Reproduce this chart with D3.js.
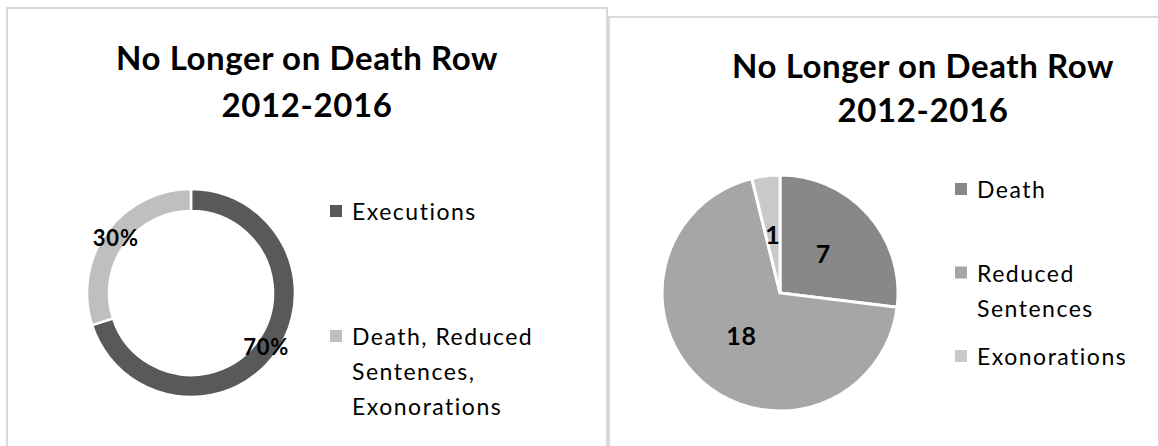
<!DOCTYPE html>
<html>
<head>
<meta charset="utf-8">
<script src="https://cdn.jsdelivr.net/npm/d3@7"></script>
<style>
  body { margin: 0; background: #fff; }
  svg { display: block; font-family: Lato, "Open Sans", sans-serif; }
  .title { font-size: 33px; font-weight: bold; fill: #000; text-anchor: middle; letter-spacing: 0.6px; }
  .legend-text { font-size: 23px; fill: #000; letter-spacing: 1.5px; }
  .slice-label { font-size: 22px; font-weight: bold; fill: #000; text-anchor: middle; letter-spacing: 0.8px; }
  .pie-label { font-size: 25px; }
  .panel { fill: none; stroke: #d9d9d9; stroke-width: 2; }
</style>
</head>
<body>
<div id="chart"></div>
<script>
// chart data
const titleLines = ['No Longer on Death Row', '2012-2016'];

const donutCategories = ['Executions', 'Death, Reduced Sentences, Exonorations'];
const donutValues = [70, 30];
const donutLegend = [['Executions'], ['Death, Reduced', 'Sentences,', 'Exonorations']];
const donutColors = ['#595959', '#bfbfbf'];

const pieCategories = ['Death', 'Reduced Sentences', 'Exonorations'];
const pieValues = [7, 18, 1];
const pieLegend = [['Death'], ['Reduced', 'Sentences'], ['Exonorations']];
const pieColors = ['#888888', '#a6a6a6', '#c9c9c9'];

const svg = d3.select('#chart')
  .append('svg')
  .attr('width', 1158)
  .attr('height', 446);

// panel frames
svg.append('rect').attr('class', 'panel')
  .attr('x', 7).attr('y', 8).attr('width', 600).attr('height', 460);
svg.append('rect').attr('class', 'panel')
  .attr('x', 609).attr('y', 17).attr('width', 620).attr('height', 460);

function addTitle(cx, baselines) {
  svg.append('g').selectAll('text')
    .data(titleLines)
    .join('text')
    .attr('class', 'title')
    .attr('x', cx)
    .attr('y', (d, i) => baselines[i])
    .text(d => d);
}

function addLegend(categories, lines, colors, x, yRange) {
  const y = d3.scalePoint().domain(categories).range(yRange);
  const items = svg.append('g').selectAll('g')
    .data(categories)
    .join('g')
    .attr('transform', d => `translate(${x},${y(d)})`);

  items.append('rect')
    .attr('width', 12)
    .attr('height', 12)
    .attr('fill', (d, i) => colors[i]);

  items.append('text')
    .attr('class', 'legend-text')
    .attr('x', 22)
    .attr('y', 15)
    .selectAll('tspan')
    .data((d, i) => lines[i])
    .join('tspan')
    .attr('x', 22)
    .attr('dy', (d, i) => i === 0 ? 0 : 35)
    .text(d => d);
}

// ---- left: doughnut of percentages ----
addTitle(307, [70, 117]);

const donutPie = d3.pie().sort(null).value(d => d);
const donutArc = d3.arc().innerRadius(82).outerRadius(104);
const donutG = svg.append('g').attr('transform', 'translate(191,293)');
const donutTotal = d3.sum(donutValues);

donutG.selectAll('path')
  .data(donutPie(donutValues))
  .join('path')
  .attr('d', donutArc)
  .attr('fill', (d, i) => donutColors[i])
  .attr('stroke', '#fff')
  .attr('stroke-width', 2.5);

donutG.selectAll('text')
  .data(donutPie(donutValues))
  .join('text')
  .attr('class', 'slice-label')
  .attr('x', d => donutArc.centroid(d)[0])
  .attr('y', d => donutArc.centroid(d)[1])
  .attr('dy', '0.35em')
  .text(d => d3.format('.0%')(d.value / donutTotal));

addLegend(donutCategories, donutLegend, donutColors, 330, [205, 330]);

// ---- right: pie of counts ----
addTitle(923, [78, 122]);

const countPie = d3.pie().sort(null).value(d => d);
const pieArc = d3.arc().innerRadius(0).outerRadius(118);
const labelArc = d3.arc().innerRadius(58).outerRadius(58);
const pieG = svg.append('g').attr('transform', 'translate(780,293)');

pieG.selectAll('path')
  .data(countPie(pieValues))
  .join('path')
  .attr('d', pieArc)
  .attr('fill', (d, i) => pieColors[i])
  .attr('stroke', '#fff')
  .attr('stroke-width', 3);

pieG.selectAll('text')
  .data(countPie(pieValues))
  .join('text')
  .attr('class', 'slice-label pie-label')
  .attr('x', d => labelArc.centroid(d)[0])
  .attr('y', d => labelArc.centroid(d)[1])
  .attr('dy', '0.35em')
  .text(d => d.value);

addLegend(pieCategories, pieLegend, pieColors, 955, [183, 350]);
</script>
</body>
</html>
